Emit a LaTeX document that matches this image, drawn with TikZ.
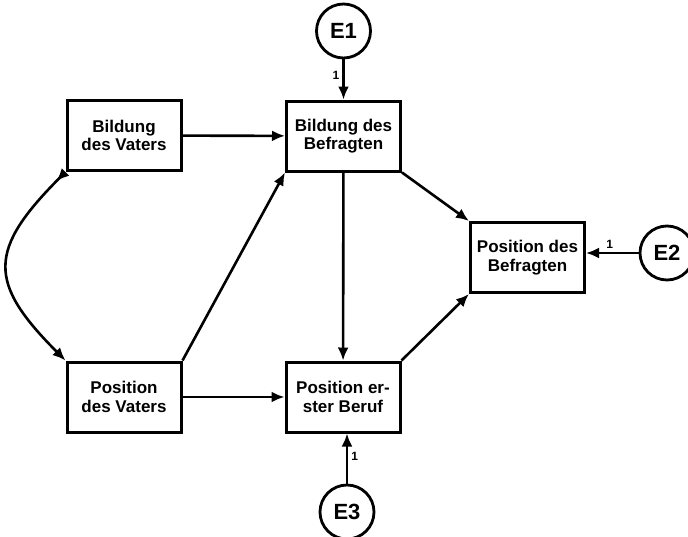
\documentclass[tikz,border=0pt]{standalone}
\usepackage{fontspec}
\setmainfont{Liberation Sans}
\usetikzlibrary{arrows.meta}
\tikzset{>={Latex[length=13pt,width=11pt]}}
\tikzset{
	var/.style={draw, line width=3pt, minimum width=114pt, minimum height=70pt, align=center, inner sep=2pt, font=\fontsize{17}{18.5}\selectfont\bfseries},
	err/.style={draw, circle, line width=2.8pt, minimum size=54pt, inner sep=0pt, font=\fontsize{22}{24}\selectfont\bfseries},
	path/.style={->, line width=2.6pt},
	one/.style={font=\fontsize{12}{13}\selectfont\bfseries, inner sep=3pt}
}

\begin{document}
\begin{tikzpicture}[x=1pt, y=-1pt]
		\useasboundingbox (0,0) rectangle (688,536);

		% Variables
		\node[var] (bv) at (124,135.5) {Bildung\\des Vaters};
		\node[var] (pv) at (124,397) {Position\\des Vaters};
		\node[var] (bb) at (343.5,136) {Bildung des\\Befragten};
		\node[var] (pe) at (343,397) {Position er-\\ster Beruf};
		\node[var] (pb) at (527.5,257.5) {Position des\\Befragten};

		% Residuals
		\node[err] (e1) at (343.5,31) {E1};
		\node[err] (e2) at (667,253) {E2};
		\node[err] (e3) at (347,512) {E3};

		% Paths
		\draw[path] (bv) -- (bb);
		\draw[path] (pv) -- (pe);
		\draw[path] (pv.north east) -- (bb.south west);
		\draw[path] (bb) -- (pe);
		\draw[path] (bb.south east) -- (pb.north west);
		\draw[path] (pe.north east) -- (pb.south west);

		% Correlation
		\draw[{>}-{>}, line width=2.6pt] (bv.south west) to[out=-135, in=135, looseness=1.5] (pv.north west);

		% Residual paths with fixed weight
		\draw[path] (e1) -- node[pos=0.4, left, one] {1} (bb);
		\draw[path] (e2.west) -- node[pos=0.55, above, one] {1} (e2.west -| pb.east);
		\draw[path] (e3.north) -- node[pos=0.55, right, one] {1} (e3.north |- pe.south);
	\end{tikzpicture}
\end{document}
